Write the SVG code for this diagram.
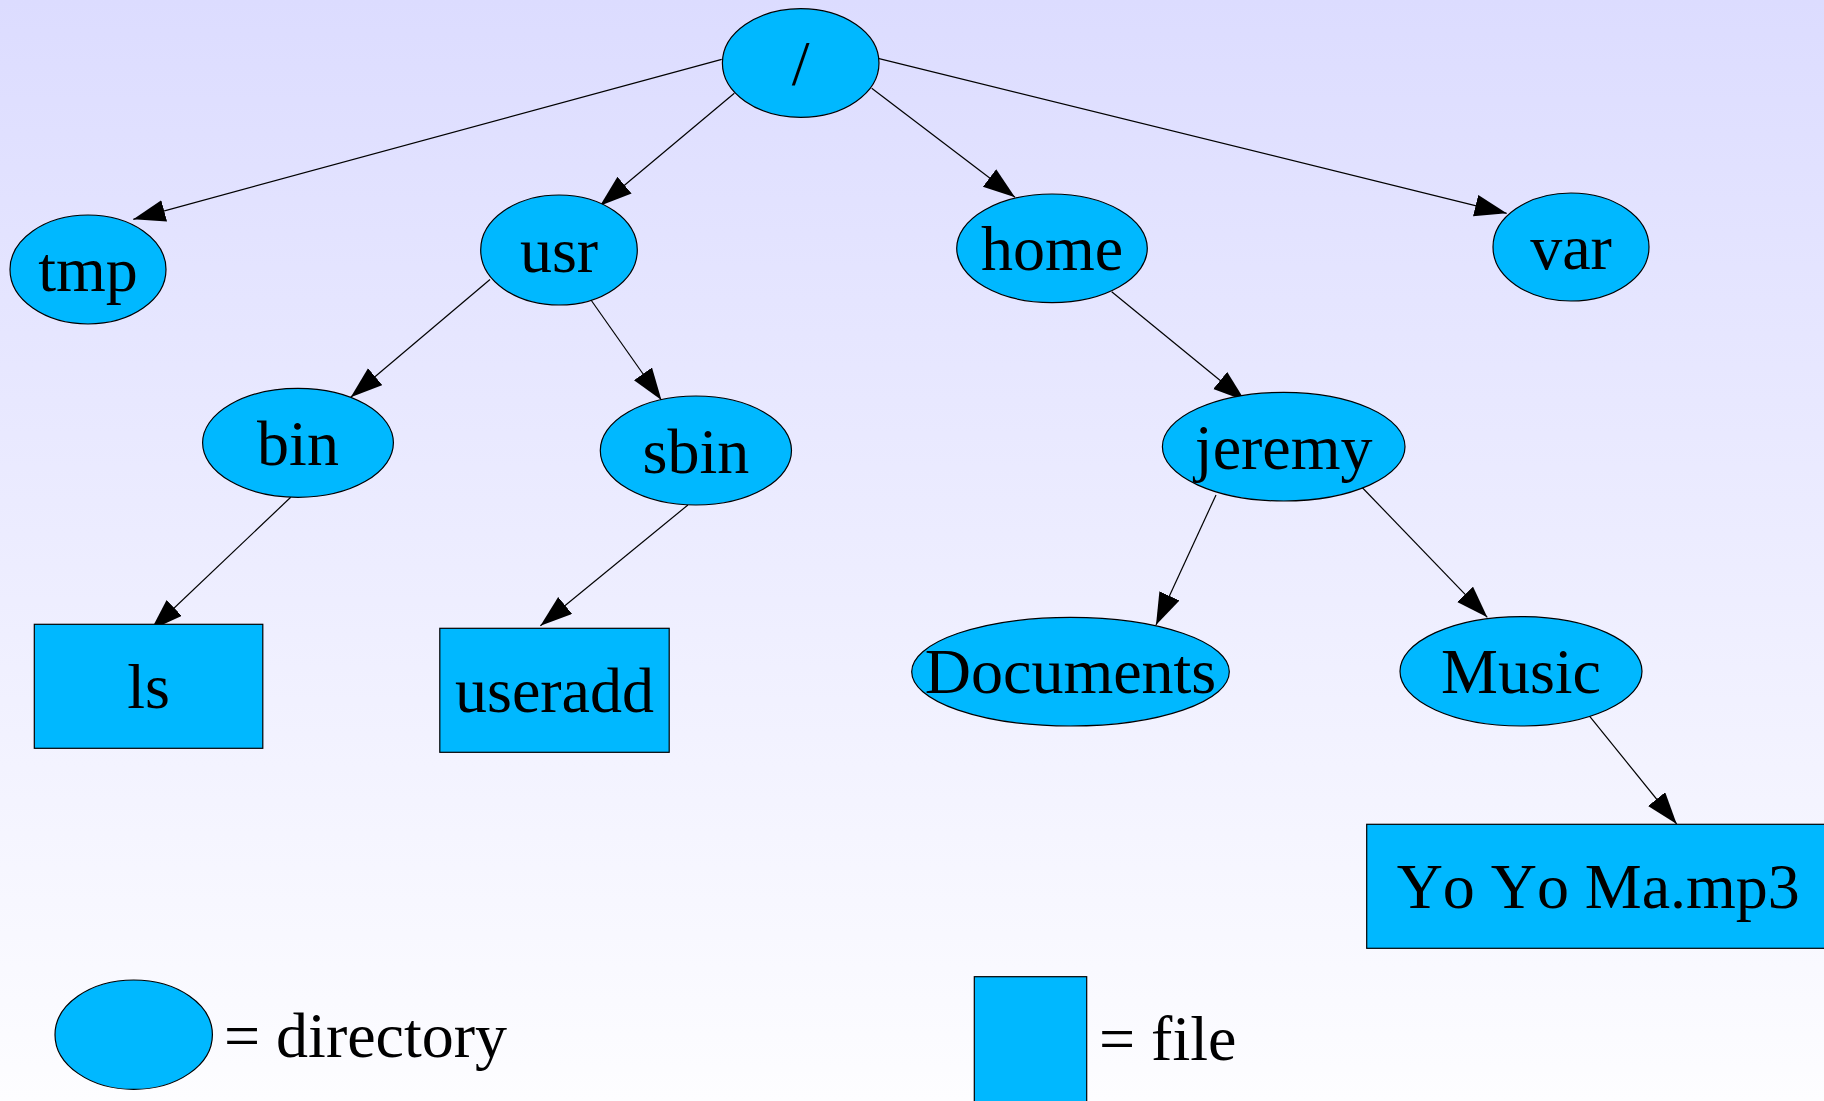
<svg xmlns="http://www.w3.org/2000/svg" width="1824" height="1101" viewBox="0 0 1824 1101">
<defs>
<linearGradient id="bg" x1="0" y1="0" x2="0" y2="1">
<stop offset="0" stop-color="#dcdcff"/>
<stop offset="1" stop-color="#fdfdff"/>
</linearGradient>
<marker id="arr" markerUnits="userSpaceOnUse" markerWidth="34" markerHeight="24" refX="32" refY="11" orient="auto">
<path d="M0,0 L32,11 L0,22 z" fill="#000"/>
</marker>
</defs>
<style>
.n{fill:#00b8ff;stroke:#000;stroke-width:1.2}
.t{font-family:"Liberation Serif","Times New Roman",serif;font-size:64px;fill:#000;text-anchor:middle}
.l{font-family:"Liberation Serif","Times New Roman",serif;font-size:64px;fill:#000}
.e{stroke:#000;stroke-width:1.2;fill:none;marker-end:url(#arr)}
</style>
<rect x="0" y="0" width="1824" height="1101" fill="url(#bg)"/>
<g id="connectors">
<line class="e" x1="721.7" y1="59.3" x2="133.3" y2="219.3"/>
<line class="e" x1="734.3" y1="93.3" x2="600" y2="205.7"/>
<line class="e" x1="871.7" y1="88.3" x2="1015" y2="197.3"/>
<line class="e" x1="874" y1="57.3" x2="1506.7" y2="213.3"/>
<line class="e" x1="490" y1="279.5" x2="350.7" y2="397.3"/>
<line class="e" x1="591" y1="300" x2="661.4" y2="400"/>
<line class="e" x1="1111.7" y1="291.7" x2="1245" y2="400.7"/>
<line class="e" x1="290.7" y1="497.3" x2="151" y2="630"/>
<line class="e" x1="687.9" y1="505" x2="540.4" y2="625.7"/>
<line class="e" x1="1216" y1="495" x2="1156" y2="625"/>
<line class="e" x1="1361.7" y1="487" x2="1487.3" y2="617.3"/>
<line class="e" x1="1587.3" y1="713.3" x2="1676.7" y2="824"/>
</g>
<g id="root"><ellipse class="n" cx="800.7" cy="63" rx="78.3" ry="54.3"/><text class="t" x="800.7" y="85">/</text></g>
<g id="tmp"><ellipse class="n" cx="88" cy="269.5" rx="78" ry="54.5"/><text class="t" x="88" y="290.5">tmp</text></g>
<g id="usr"><ellipse class="n" cx="559" cy="250" rx="78.3" ry="55"/><text class="t" x="559" y="272">usr</text></g>
<g id="home"><ellipse class="n" cx="1052" cy="248.3" rx="95.3" ry="54.3"/><text class="t" x="1052" y="270">home</text></g>
<g id="var"><ellipse class="n" cx="1571" cy="247" rx="78" ry="54"/><text class="t" x="1571" y="268.5">var</text></g>
<g id="bin"><ellipse class="n" cx="298" cy="442.8" rx="95.4" ry="54.5"/><text class="t" x="298" y="465">bin</text></g>
<g id="sbin"><ellipse class="n" cx="695.9" cy="450.5" rx="95.6" ry="54.5"/><text class="t" x="695.9" y="472.5">sbin</text></g>
<g id="jeremy"><ellipse class="n" cx="1283.7" cy="446.7" rx="121.3" ry="54.3"/><text class="t" x="1283.7" y="468.5">jeremy</text></g>
<g id="documents"><ellipse class="n" cx="1070.5" cy="671.7" rx="158.8" ry="54.3"/><text class="t" x="1070.5" y="693.3">Documents</text></g>
<g id="music"><ellipse class="n" cx="1521" cy="671.3" rx="121" ry="54.7"/><text class="t" x="1521" y="693.3">Music</text></g>
<g id="ls"><rect class="n" x="34.3" y="624.3" width="228.5" height="124"/><text class="t" x="148.5" y="708.3">ls</text></g>
<g id="useradd"><rect class="n" x="439.8" y="628.3" width="229.4" height="124"/><text class="t" x="554.5" y="711.7">useradd</text></g>
<g id="yoyoma"><rect class="n" x="1366.7" y="824.3" width="470" height="124"/><text class="l" x="1396.7" y="907.7" textLength="403" lengthAdjust="spacing" style="font-kerning:none">Yo Yo Ma.mp3</text></g>
<g id="legend-dir"><ellipse class="n" cx="133.7" cy="1034.7" rx="78.7" ry="54.7"/><text class="l" x="224" y="1057.3">= directory</text></g>
<g id="legend-file"><rect class="n" x="974.3" y="976.7" width="112.4" height="130"/><text class="l" x="1099" y="1060">= file</text></g>
</svg>
